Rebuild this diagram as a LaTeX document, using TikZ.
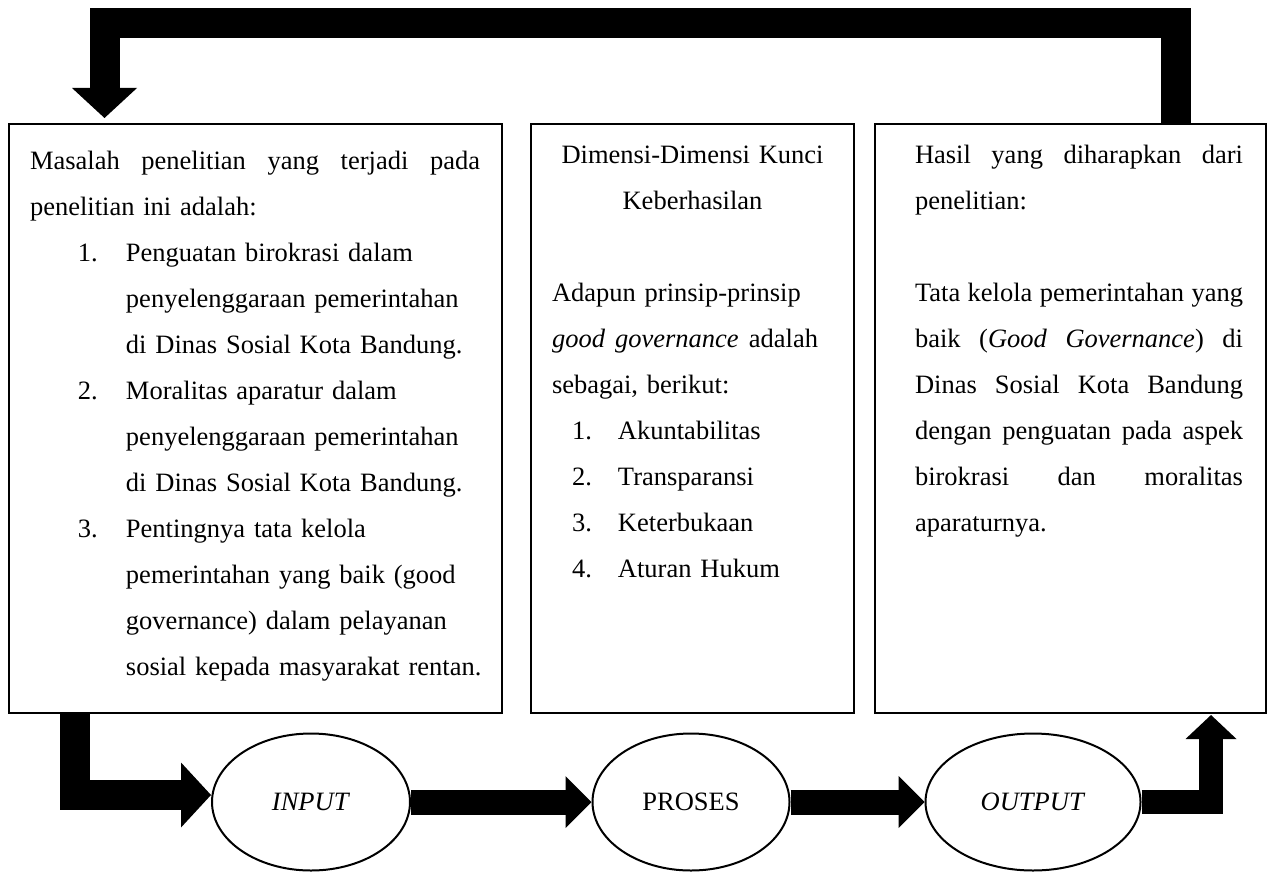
\documentclass[tikz,border=0pt]{standalone}
\usepackage{fontspec}
\setmainfont{Liberation Serif}
\usetikzlibrary{arrows.meta,shapes.geometric}

\newlength{\nrindent}
\newlength{\txindent}
\newcommand{\jline}[2][\dimexpr\linewidth-\leftskip-\rightskip\relax]{\leavevmode\hbox to #1{\spaceskip=\fontdimen2\font plus 1fil\relax#2}\par}
\newcommand{\midline}[1]{\makebox[\dimexpr\linewidth-\leftskip-\rightskip\relax]{#1}\par}
\newcommand{\numitem}[2]{\par\hangindent=\txindent\hangafter=1\noindent\hspace*{\nrindent}\makebox[\dimexpr\txindent-\nrindent\relax][l]{#1}#2\par}

\tikzset{
  box/.style={draw, line width=0.8pt, anchor=north west, inner sep=0pt, outer sep=0pt,
    font=\fontsize{13.25}{23}\selectfont},
  phase/.style={draw, ellipse, line width=1pt, inner sep=0pt, minimum height=68.5pt,
    font=\fontsize{13.25}{16}\selectfont},
  flow/.style={line width=12.5pt, line join=miter, -{Triangle[width=26pt,length=13pt,line width=0pt]}},
  fatflow/.style={line width=15pt, line join=miter, -{Triangle[width=32.5pt,length=15pt,line width=0pt]}},
}

\begin{document}
\begin{tikzpicture}[x=0.5pt,y=-0.5pt]
        \useasboundingbox (0,0) rectangle (1272,872);

        % three boxes
        \node[box, text width=246.5pt, text height=22.5pt, text depth=272pt] (masalah) at (9,124) {%
          \leftskip=10.5pt \rightskip=0pt \setlength{\nrindent}{24pt}\setlength{\txindent}{48pt}%
          \jline[225pt]{Masalah penelitian yang terjadi pada}
          penelitian ini adalah:\par
          \numitem{1.}{Penguatan birokrasi dalam\newline penyelenggaraan pemerintahan\newline di Dinas Sosial Kota Bandung.}
          \numitem{2.}{Moralitas aparatur dalam\newline penyelenggaraan pemerintahan\newline di Dinas Sosial Kota Bandung.}
          \numitem{3.}{Pentingnya tata kelola\newline pemerintahan yang baik (good\newline governance) dalam pelayanan\newline sosial kepada masyarakat rentan.}};

        \node[box, text width=161.5pt, text height=19.5pt, text depth=275pt] (dimensi) at (531,124) {%
          \leftskip=10.5pt \rightskip=10.5pt \setlength{\nrindent}{10pt}\setlength{\txindent}{33pt}%
          \midline{Dimensi-Dimensi Kunci}
          \midline{Keberhasilan}
          \null\par
          Adapun prinsip-prinsip\par
          \jline[133pt]{\textit{good governance} adalah}
          sebagai, berikut:\par
          \numitem{1.}{Akuntabilitas}
          \numitem{2.}{Transparansi}
          \numitem{3.}{Keterbukaan}
          \numitem{4.}{Aturan Hukum}};

        \node[box, text width=195.5pt, text height=19.5pt, text depth=275pt] (hasil) at (875,124) {%
          \leftskip=20pt \rightskip=11.5pt
          \jline{Hasil yang diharapkan dari}
          penelitian:\par
          \null\par
          \jline{Tata kelola pemerintahan yang}
          \jline{baik (\textit{Good Governance}) di}
          \jline{Dinas Sosial Kota Bandung}
          \jline{dengan penguatan pada aspek}
          \jline{birokrasi dan moralitas}
          aparaturnya.\par};

        % input - proses - output
        \node[phase, minimum width=99pt] (input) at (311,802) {\textit{INPUT}};
        \node[phase, minimum width=98.5pt] (proses) at (691,802) {PROSES};
        \node[phase, minimum width=107.5pt] (output) at (1033,802) {\textit{OUTPUT}};

        \coordinate (fbr) at (1176,23);
        \coordinate (fbl) at (104.5,23);
        \coordinate (lb) at (75,795);
        \coordinate (rb) at (1211,801);

        \draw[fatflow, shorten >=3pt] (fbr |- hasil.north) -- (fbr) -- (fbl) -- (fbl |- masalah.north);
        \draw[fatflow] (lb |- masalah.south) -- (lb) -- (input.west |- lb);
        \draw[flow] (input) -- (proses);
        \draw[flow] (proses) -- (output);
        \draw[flow, line width=12pt, -{Triangle[width=25.5pt,length=12pt,line width=0pt]}, shorten >=1pt] (output.east) -| (rb |- hasil.south);
\end{tikzpicture}
\end{document}
